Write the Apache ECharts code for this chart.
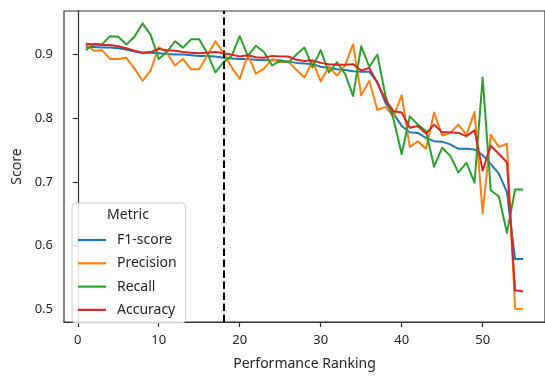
<!DOCTYPE html>
<html>
<head>
<meta charset="utf-8">
<script src="https://cdn.jsdelivr.net/npm/echarts@6/dist/echarts.min.js"></script>
<style>html,body{margin:0;padding:0;background:#fff}#c{width:545px;height:376px}</style>
</head>
<body>
<div id="c"></div>
<script>
const ranks = Array.from({length: 55}, (_, i) => i + 1);
const f1Score = [0.912,0.912,0.911,0.911,0.910,0.908,0.905,0.903,0.903,0.902,0.901,0.900,0.900,0.899,0.898,0.898,0.897,0.895,0.894,0.893,0.893,0.892,0.891,0.891,0.891,0.889,0.887,0.886,0.885,0.881,0.879,0.877,0.876,0.874,0.873,0.873,0.857,0.824,0.807,0.788,0.778,0.777,0.769,0.764,0.763,0.759,0.752,0.752,0.751,0.742,0.728,0.713,0.684,0.579,0.579];
const precision = [0.916,0.906,0.907,0.893,0.893,0.895,0.878,0.859,0.875,0.912,0.903,0.883,0.893,0.877,0.877,0.899,0.921,0.903,0.880,0.862,0.900,0.870,0.878,0.893,0.888,0.889,0.876,0.864,0.890,0.858,0.881,0.867,0.883,0.916,0.836,0.859,0.813,0.818,0.803,0.836,0.755,0.764,0.752,0.809,0.773,0.777,0.790,0.774,0.810,0.651,0.774,0.755,0.760,0.501,0.500];
const recall = [0.907,0.917,0.916,0.929,0.928,0.916,0.928,0.949,0.931,0.893,0.904,0.921,0.911,0.924,0.924,0.902,0.872,0.888,0.898,0.929,0.898,0.914,0.904,0.883,0.890,0.888,0.900,0.911,0.880,0.907,0.872,0.888,0.870,0.835,0.913,0.881,0.900,0.835,0.798,0.744,0.803,0.790,0.780,0.724,0.754,0.741,0.715,0.730,0.699,0.864,0.687,0.677,0.620,0.688,0.688];
const accuracy = [0.917,0.916,0.915,0.915,0.913,0.910,0.906,0.903,0.904,0.909,0.907,0.906,0.904,0.903,0.902,0.903,0.904,0.902,0.900,0.897,0.899,0.896,0.895,0.898,0.897,0.897,0.892,0.890,0.891,0.887,0.885,0.884,0.884,0.885,0.875,0.879,0.855,0.829,0.811,0.809,0.785,0.788,0.776,0.790,0.778,0.778,0.777,0.772,0.781,0.718,0.757,0.744,0.731,0.530,0.528];
const xTicks = [0, 10, 20, 30, 40, 50];
const yTicks = [0.5, 0.6, 0.7, 0.8, 0.9];
const dividerRank = 18;

const seriesDefs = [
  {name: 'F1-score', data: f1Score, color: '#1f77b4'},
  {name: 'Precision', data: precision, color: '#ff7f0e'},
  {name: 'Recall', data: recall, color: '#2ca02c'},
  {name: 'Accuracy', data: accuracy, color: '#d62728'}
];
const txt = '#262626';
const font = 'Noto Sans';
const chart = echarts.init(document.getElementById('c'), null, {renderer: 'canvas'});
const series = seriesDefs.map((s, i) => ({
  name: s.name,
  type: 'line',
  data: ranks.map((r, j) => [r, s.data[j]]),
  symbol: 'none',
  showSymbol: false,
  color: s.color,
  lineStyle: {width: 2, color: s.color, join: 'round'},
  emphasis: {disabled: true},
  z: 2 + i
}));
series.push({
  name: 'divider',
  type: 'line',
  data: [],
  silent: true,
  markLine: {
    symbol: 'none',
    silent: true,
    label: {show: false},
    lineStyle: {color: '#000', type: [7.5, 3.5], width: 2},
    data: [{xAxis: dividerRank}]
  },
  z: 10
});
chart.setOption({
  animation: false,
  backgroundColor: '#fff',
  textStyle: {fontFamily: font},
  grid: {left: 64, top: 11, width: 492, height: 319, show: true, borderColor: '#333', borderWidth: 1.2, containLabel: false},
  xAxis: {
    type: 'value', min: -1.7, max: 57.7,
    name: 'Performance Ranking', nameLocation: 'middle', nameGap: 35,
    nameTextStyle: {color: txt, fontSize: 14, fontFamily: font},
    axisLine: {show: true, lineStyle: {color: '#333', width: 1.2}},
    axisTick: {show: true, length: 5, lineStyle: {color: '#333', width: 1.2}, customValues: xTicks},
    axisLabel: {color: txt, fontSize: 13, fontFamily: font, margin: 12, customValues: xTicks},
    splitLine: {show: false}
  },
  yAxis: {
    type: 'value', min: 0.480, max: 0.9685,
    name: 'Score', nameLocation: 'middle', nameGap: 36, nameRotate: 90,
    nameTextStyle: {color: txt, fontSize: 14, fontFamily: font},
    axisLine: {show: true, lineStyle: {color: '#333', width: 1.2}},
    axisTick: {show: true, length: 5, lineStyle: {color: '#333', width: 1.2}, customValues: yTicks},
    axisLabel: {color: txt, fontSize: 13, fontFamily: font, margin: 11, customValues: yTicks, formatter: v => v.toFixed(1)},
    splitLine: {show: false}
  },
  legend: {
    data: seriesDefs.map(s => ({name: s.name, icon: 'rect'})),
    orient: 'vertical',
    left: 72, top: 203,
    padding: [30, 9, 6, 6],
    itemWidth: 28, itemHeight: 2.2, itemGap: 9.3,
    backgroundColor: 'rgba(255,255,255,0.85)',
    borderColor: '#cccccc', borderWidth: 1, borderRadius: 4,
    textStyle: {color: txt, fontSize: 14, lineHeight: 14, fontFamily: font, padding: [0, 0, 0, 6]},
    selectedMode: false
  },
  graphic: [{
    type: 'text', x: 128, y: 215, z: 100,
    style: {text: 'Metric', fill: txt, font: '14px "Noto Sans"', textAlign: 'center', textVerticalAlign: 'middle'}
  }],
  series: series
});
</script>
</body>
</html>
